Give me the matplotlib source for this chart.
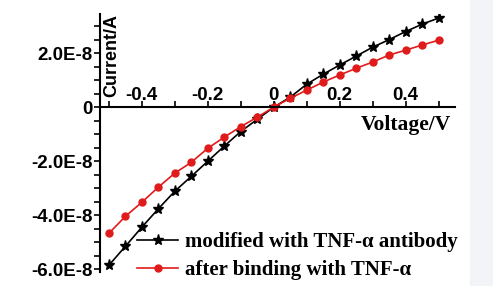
import numpy as np
import matplotlib.pyplot as plt
from matplotlib.patches import Rectangle
from matplotlib.ticker import MultipleLocator, FixedLocator, FixedFormatter

voltage = [-0.5, -0.45, -0.4, -0.35, -0.3, -0.25, -0.2, -0.15, -0.1, -0.05, 0.0,
           0.05, 0.1, 0.15, 0.2, 0.25, 0.3, 0.35, 0.4, 0.45, 0.5]
# current in units of 1E-8 A
antibody = [-5.85, -5.15, -4.44, -3.76, -3.11, -2.56, -2.0, -1.44, -0.9, -0.45, 0.0,
            0.37, 0.85, 1.22, 1.56, 1.89, 2.22, 2.5, 2.8, 3.07, 3.3]
binding = [-4.67, -4.04, -3.52, -2.96, -2.44, -2.04, -1.52, -1.11, -0.72, -0.37, 0.0,
           0.33, 0.63, 0.93, 1.19, 1.44, 1.67, 1.93, 2.11, 2.3, 2.48]
label_antibody = 'modified with TNF-\u03b1 antibody'
label_binding = 'after binding with TNF-\u03b1'
yticks = [-6, -4, -2, 0, 2]
yticklabels = ['-6.0E-8', '-4.0E-8', '-2.0E-8', '0', '2.0E-8']
xticks = [-0.4, -0.2, 0, 0.2, 0.4]
xticklabels = ['-0.4', '-0.2', '0', '0.2', '0.4']

fig = plt.figure(figsize=(4.93, 2.86), dpi=100)
fig.patches.append(Rectangle((470 / 493, 0), 1, 1, transform=fig.transFigure,
                             color='#f2f4f7', zorder=-10))
ax = fig.add_axes([100 / 493, 14 / 286, 355 / 493, 258 / 286])
ax.patch.set_alpha(0)

ax.plot(voltage, antibody, color='black', lw=1.2, marker='*', ms=8,
        label=label_antibody)
ax.plot(voltage, binding, color='#e01b1b', lw=1.2, marker='o', ms=5,
        label=label_binding)

ax.set_xlim(-0.527, 0.55)
ax.set_ylim(-6.1, 3.45)

for s in ['top', 'right']:
    ax.spines[s].set_visible(False)
ax.spines['bottom'].set_position(('data', 0))
ax.spines['bottom'].set_linewidth(1.5)
ax.spines['left'].set_linewidth(1.5)

ax.xaxis.set_major_locator(FixedLocator(xticks))
ax.xaxis.set_major_formatter(FixedFormatter(xticklabels))
ax.xaxis.set_minor_locator(MultipleLocator(0.1))
ax.yaxis.set_major_locator(FixedLocator(yticks))
ax.yaxis.set_major_formatter(FixedFormatter(yticklabels))
ax.yaxis.set_minor_locator(MultipleLocator(0.5))

ax.tick_params(axis='x', which='both', direction='in', length=4, width=1.2,
               pad=-2)
ax.tick_params(axis='y', which='both', direction='out', length=4, width=1.2,
               pad=1)
for t in ax.get_xticklabels():
    t.set_va('bottom')
for t in ax.get_xticklabels() + ax.get_yticklabels():
    t.set_fontfamily('Liberation Sans')
    t.set_fontweight('bold')
    t.set_fontsize(13.5)

ax.text(0.537, -0.3, 'Voltage/V', ha='right', va='top', fontsize=15.5,
        fontweight='bold', family='Liberation Serif')
ax.text(0.008, 1.0, 'Current/A', transform=ax.transAxes, rotation=90,
        ha='left', va='top', fontsize=13, fontweight='bold',
        family='Liberation Sans')

leg = ax.legend(loc='lower left', bbox_to_anchor=(0.08, -0.065), frameon=False,
                handlelength=2.0, handletextpad=0.3, labelspacing=0.4,
                borderaxespad=0,
                prop={'family': 'Liberation Serif', 'weight': 'bold', 'size': 15})

fig.savefig('out.png', dpi=100)
